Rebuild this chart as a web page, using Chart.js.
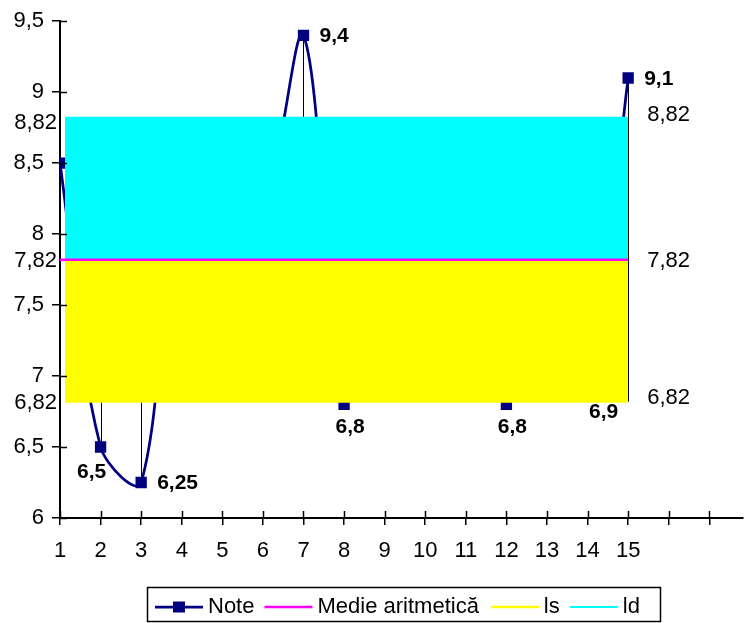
<!DOCTYPE html>
<html><head><meta charset="utf-8">
<script src="https://cdn.jsdelivr.net/npm/chart.js@4/dist/chart.umd.min.js"></script>
<style>html,body{margin:0;padding:0;background:#fff;}canvas{display:block;}</style>
</head><body>
<canvas id="c" width="744" height="623"></canvas>
<script>
// ---- data ----
const categories = [1, 2, 3, 4, 5, 6, 7, 8, 9, 10, 11, 12, 13, 14, 15];
const note  = [8.5, 6.5, 6.25, 8.5, 8.0, 8.2, 9.4, 6.8, 8.5, 8.05, 7.9, 6.8, 7.9, 6.9, 9.1];
const medie = [7.82, 7.82, 7.82, 7.82, 7.82, 7.82, 7.82, 7.82, 7.82, 7.82, 7.82, 7.82, 7.82, 7.82, 7.82];
const ls    = [6.82, 6.82, 6.82, 6.82, 6.82, 6.82, 6.82, 6.82, 6.82, 6.82, 6.82, 6.82, 6.82, 6.82, 6.82];
const ld    = [8.82, 8.82, 8.82, 8.82, 8.82, 8.82, 8.82, 8.82, 8.82, 8.82, 8.82, 8.82, 8.82, 8.82, 8.82];
const seriesNames = ['Note', 'Medie aritmetică', 'ls', 'ld'];
const xTickValues = [1, 2, 3, 4, 5, 6, 7, 8, 9, 10, 11, 12, 13, 14, 15, 16, 17];
const xTickLabels = ['1','2','3','4','5','6','7','8','9','10','11','12','13','14','15','',''];
const yTickValues = [6, 6.5, 7, 7.5, 8, 8.5, 9, 9.5];

// ---- styles ----
const FONT = '"Liberation Sans", Arial, sans-serif';
const NAVY = '#000080';
const labelPlace = ['right','belowLeft','right','right','right','right','right','below','right','right','right','below','right','belowRight','right'];
const placements = {
  right:      {align:'left',   dx: 16, dy: 1},
  below:      {align:'center', dx: 6,  dy: 23},
  belowLeft:  {align:'center', dx: -9, dy: 25},
  belowRight: {align:'center', dx: 16, dy: 22}
};
const fmt = v => String(v).replace('.', ',');
const toXY = arr => categories.map((c, i) => ({x: c, y: arr[i]}));

const highLow = {
  id: 'highLow',
  beforeDatasetsDraw(chart) {
    const {ctx, scales: {x, y}} = chart;
    ctx.save();
    ctx.strokeStyle = '#000'; ctx.lineWidth = 1;
    categories.forEach((c, i) => {
      const vals = [note[i], medie[i], ls[i], ld[i]];
      const hi = Math.max(...vals), lo = Math.min(...vals);
      const px = Math.round(x.getPixelForValue(c)) + 0.5;
      ctx.beginPath();
      ctx.moveTo(px, y.getPixelForValue(hi));
      ctx.lineTo(px, y.getPixelForValue(lo));
      ctx.stroke();
    });
    ctx.restore();
  }
};

const layering = {
  id: 'layering',
  afterDatasetDraw(chart, args) {
    const {ctx, scales: {x}, chartArea} = chart;
    if (args.index === 0) {
      const meta = chart.getDatasetMeta(0);
      ctx.save();
      ctx.font = 'bold 21px ' + FONT; ctx.fillStyle = '#000'; ctx.textBaseline = 'middle';
      meta.data.forEach((pt, i) => {
        const p = placements[labelPlace[i]];
        ctx.textAlign = p.align;
        ctx.fillText(fmt(note[i]), pt.x + p.dx, pt.y + p.dy);
      });
      ctx.restore();
      ctx.save();
      const l = x.getPixelForValue(categories[0]) + 5;
      const r = x.getPixelForValue(categories[categories.length - 1]);
      ctx.beginPath();
      ctx.rect(l, chartArea.top, r - l, chartArea.bottom - chartArea.top);
      ctx.clip();
    }
    if (args.index === 3) ctx.restore();
  },
  afterDatasetsDraw(chart) {
    const {ctx, scales: {x, y}} = chart;
    const first = 0, last = categories.length - 1;
    ctx.save();
    ctx.font = '22px ' + FONT; ctx.fillStyle = '#000'; ctx.textBaseline = 'middle';
    [[ld, 5, -3], [medie, 1, 1], [ls, 1, -4]].forEach(([arr, dyL, dyR]) => {
      ctx.textAlign = 'right';
      ctx.fillText(fmt(arr[first]), x.getPixelForValue(categories[first]) - 3, y.getPixelForValue(arr[first]) + dyL);
      ctx.textAlign = 'left';
      ctx.fillText(fmt(arr[last]), x.getPixelForValue(categories[last]) + 19, y.getPixelForValue(arr[last]) + dyR);
    });
    ctx.restore();
  },
  afterDraw(chart) {
    const {ctx, scales: {x, y}, chartArea} = chart;
    ctx.save();
    ctx.strokeStyle = '#000'; ctx.lineWidth = 1.5;
    // inner halves of crossing ticks
    yTickValues.forEach(v => {
      const py = Math.round(y.getPixelForValue(v)) + 0.5;
      ctx.beginPath(); ctx.moveTo(chartArea.left, py); ctx.lineTo(chartArea.left + 7, py); ctx.stroke();
    });
    xTickValues.forEach(v => {
      const px = Math.round(x.getPixelForValue(v)) + 0.5;
      ctx.beginPath(); ctx.moveTo(px, chartArea.bottom); ctx.lineTo(px, chartArea.bottom - 7); ctx.stroke();
    });
    // legend
    const ds = chart.data.datasets;
    ctx.font = '22px ' + FONT; ctx.textBaseline = 'middle'; ctx.textAlign = 'left';
    let cx = 155; const cy = 607;
    const gaps = [10, 12, 10, 0];
    ctx.lineWidth = 1.5; ctx.strokeStyle = '#000';
    ctx.strokeRect(147.5, 587.5, 513, 34);
    [0, 1, 2, 3].forEach((i, k) => {
      const d = ds[i];
      ctx.strokeStyle = d.borderColor; ctx.lineWidth = d.borderWidth;
      ctx.beginPath(); ctx.moveTo(cx, cy); ctx.lineTo(cx + 48, cy); ctx.stroke();
      if (i === 0) { ctx.fillStyle = NAVY; ctx.fillRect(cx + 18, cy - 5.5, 12, 11); }
      ctx.fillStyle = '#000';
      ctx.fillText(seriesNames[i], cx + 48 + 5, cy);
      cx += 48 + 5 + ctx.measureText(seriesNames[i]).width + gaps[k];
    });
    ctx.restore();
  }
};

new Chart(document.getElementById('c'), {
  type: 'line',
  data: {
    datasets: [
      {label: seriesNames[0], data: toXY(note), borderColor: NAVY, backgroundColor: NAVY, borderWidth: 2.75,
       pointStyle: 'rect', pointRadius: 8, pointBackgroundColor: NAVY, pointBorderColor: NAVY, pointBorderWidth: 0,
       tension: 0.35, fill: false, order: 3},
      {label: seriesNames[1], data: toXY(medie), borderColor: '#ff00ff', borderWidth: 2.5, pointRadius: 0, fill: false, order: 0},
      {label: seriesNames[2], data: toXY(ls), borderColor: '#ffff00', backgroundColor: '#ffff00', borderWidth: 2.5, pointRadius: 0, fill: 1, order: 2},
      {label: seriesNames[3], data: toXY(ld), borderColor: '#00ffff', backgroundColor: '#00ffff', borderWidth: 2, pointRadius: 0, fill: 1, order: 1}
    ]
  },
  options: {
    responsive: false, animation: false, devicePixelRatio: 1, events: [],
    layout: {autoPadding: false, padding: {top: 19, right: 1, left: 0, bottom: 0}},
    plugins: {legend: {display: false}, tooltip: {enabled: false}, filler: {propagate: false}},
    scales: {
      x: {
        type: 'linear', min: 1, max: 17.83,
        afterBuildTicks: s => { s.ticks = xTickValues.map(v => ({value: v})); },
        afterFit: s => { s.height = 105; s.paddingRight = 0; s.paddingLeft = 0; },
        ticks: {callback: (v, i) => xTickLabels[i], autoSkip: false, maxRotation: 0, includeBounds: false,
                font: {family: FONT, size: 22}, color: '#000', padding: 13},
        grid: {drawOnChartArea: false, tickLength: 7, color: '#000', lineWidth: 1.5},
        border: {color: '#000', width: 2}
      },
      y: {
        min: 6, max: 9.5,
        afterBuildTicks: s => { s.ticks = yTickValues.map(v => ({value: v})); },
        afterFit: s => { s.width = 60; },
        ticks: {callback: v => fmt(v), font: {family: FONT, size: 22}, color: '#000', padding: 8},
        grid: {drawOnChartArea: false, tickLength: 8, color: '#000', lineWidth: 1.5},
        border: {color: '#000', width: 2}
      }
    }
  },
  plugins: [highLow, layering]
});
</script>
</body></html>
